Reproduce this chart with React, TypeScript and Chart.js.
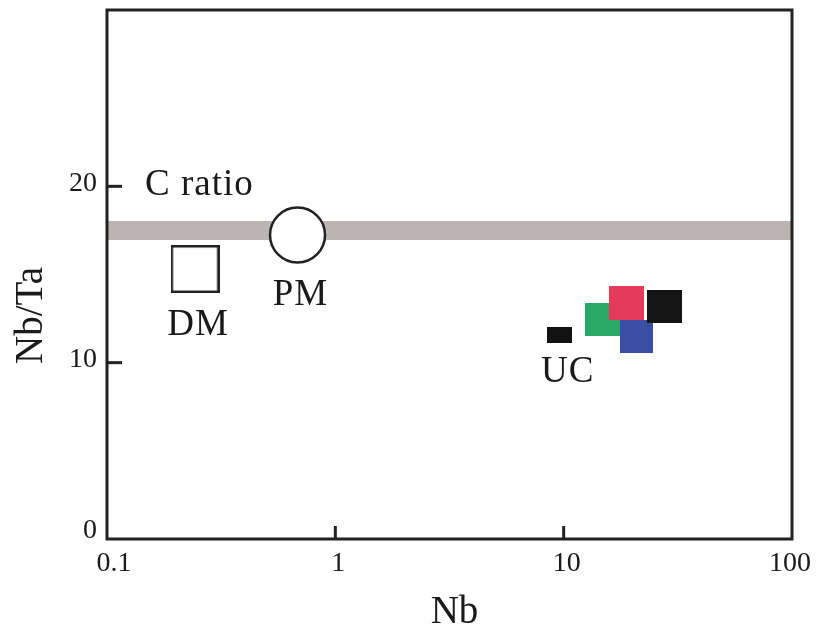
import React, { useEffect, useRef } from "react";
import { Chart, registerables } from "chart.js";

Chart.register(...registerables);

// Nb vs Nb/Ta values
const chondriticRatio = 17.5; // C ratio band (Nb/Ta)
const referenceNames = ["DM", "PM"];
const referenceNb = [0.243, 0.683];
const referenceNbTa = [15.31, 17.24];
const sampleNb = [9.6, 14.8, 18.8, 20.8, 27.7];
const sampleNbTa = [11.57, 12.45, 13.39, 11.49, 13.19];
const sampleLabel = "UC";
const xTicks = [0.1, 1, 10, 100];
const yTicks = [0, 10, 20];

// marker styling
const sampleColors = ["#121212", "#2aa866", "#e63a5b", "#3b4ea3", "#141414"];
const sampleSizes: [number, number][] = [
  [25, 16],
  [35, 33],
  [35, 34],
  [33, 33],
  [35, 33],
];
const SERIF = "'Liberation Serif', 'Times New Roman', serif";
const INK = "#222222";

function makeRect(w: number, h: number, fill: string | null, stroke?: string, lw = 0) {
  const c = document.createElement("canvas");
  c.width = w;
  c.height = h;
  const ctx = c.getContext("2d")!;
  if (fill) {
    ctx.fillStyle = fill;
    ctx.fillRect(0, 0, w, h);
  }
  if (stroke) {
    ctx.strokeStyle = stroke;
    ctx.lineWidth = lw;
    ctx.strokeRect(lw / 2, lw / 2, w - lw, h - lw);
  }
  return c;
}

const framePlugin = {
  id: "frame",
  afterDatasetsDraw(chart: any) {
    const { ctx, chartArea } = chart;
    const xs = chart.scales.x;
    const ys = chart.scales.y;
    const { left, right, top, bottom } = chartArea;
    ctx.save();

    // plot box
    ctx.strokeStyle = INK;
    ctx.lineWidth = 3;
    ctx.strokeRect(left, top, right - left, bottom - top);

    // inward tick marks at interior ticks
    ctx.lineWidth = 3;
    xTicks.forEach((v) => {
      if (v <= xs.min || v >= xs.max) return;
      const px = xs.getPixelForValue(v);
      ctx.beginPath();
      ctx.moveTo(px, bottom);
      ctx.lineTo(px, bottom - 13);
      ctx.stroke();
    });
    yTicks.forEach((v) => {
      if (v <= ys.min || v >= ys.max) return;
      const py = ys.getPixelForValue(v);
      ctx.beginPath();
      ctx.moveTo(left, py);
      ctx.lineTo(left + 15, py);
      ctx.stroke();
    });

    // tick labels
    ctx.fillStyle = "#1a1a1a";
    ctx.font = `28px ${SERIF}`;
    ctx.textAlign = "right";
    ctx.textBaseline = "middle";
    yTicks.forEach((v) => {
      const py = ys.getPixelForValue(v);
      ctx.fillText(String(v), left - 10, Math.min(py - 3, bottom - 8));
    });
    ctx.textAlign = "center";
    xTicks.forEach((v) => {
      const px = xs.getPixelForValue(v);
      const x = Math.min(Math.max(px + 3, left + 7), right - 2);
      ctx.fillText(String(v), x, bottom + 25);
    });

    // axis titles
    ctx.font = `39px ${SERIF}`;
    ctx.textBaseline = "alphabetic";
    ctx.fillText("Nb", (left + right) / 2 + 5, bottom + 84);
    ctx.save();
    ctx.translate(42, (top + bottom) / 2 + 41);
    ctx.rotate(-Math.PI / 2);
    ctx.fillText("Nb/Ta", 0, 0);
    ctx.restore();

    // annotations
    ctx.font = `37px ${SERIF}`;
    ctx.textAlign = "left";
    (ctx as any).letterSpacing = "1px";
    ctx.fillText("C ratio", left + 38, ys.getPixelForValue(chondriticRatio) - 35);
    ctx.textAlign = "center";
    referenceNames.forEach((name, i) => {
      const px = xs.getPixelForValue(referenceNb[i]);
      const py = ys.getPixelForValue(referenceNbTa[i]);
      ctx.fillText(name, px + 3, py + (name === "PM" ? 70 : 66));
    });
    const ux = xs.getPixelForValue(sampleNb[0]);
    const uy = ys.getPixelForValue(sampleNbTa[0]);
    ctx.fillText(sampleLabel, ux + 8, uy + 47);

    ctx.restore();
  },
};

export default function App() {
  const ref = useRef<HTMLCanvasElement | null>(null);

  useEffect(() => {
    document.body.style.margin = "0";
    const canvas = ref.current!;
    const dmMarker = makeRect(49, 48, "#ffffff", INK, 2.5);
    const sampleMarkers = sampleSizes.map(([w, h], i) => makeRect(w, h, sampleColors[i]));

    const chart = new Chart(canvas, {
      type: "scatter",
      data: {
        datasets: [
          {
            label: sampleLabel,
            data: sampleNb.map((x, i) => ({ x, y: sampleNbTa[i] })),
            pointStyle: sampleMarkers as any,
            pointRadius: 18,
            order: 1,
          },
          {
            label: "PM",
            data: [{ x: referenceNb[1], y: referenceNbTa[1] }],
            pointStyle: "circle",
            pointRadius: 27.5,
            borderWidth: 2.5,
            borderColor: INK,
            backgroundColor: "#ffffff",
            order: 2,
          },
          {
            label: "DM",
            data: [{ x: referenceNb[0], y: referenceNbTa[0] }],
            pointStyle: dmMarker as any,
            pointRadius: 25,
            order: 3,
          },
          {
            type: "line",
            label: "C ratio",
            data: [
              { x: xTicks[0], y: chondriticRatio },
              { x: xTicks[xTicks.length - 1], y: chondriticRatio },
            ],
            borderColor: "#bab5b2",
            borderWidth: 19,
            pointRadius: 0,
            fill: false,
            order: 10,
          } as any,
        ],
      },
      options: {
        responsive: false,
        animation: false,
        events: [],
        layout: { autoPadding: false, padding: { left: 107, right: 25, top: 10, bottom: 92 } },
        plugins: { legend: { display: false }, tooltip: { enabled: false } },
        scales: {
          x: { type: "logarithmic", min: 0.1, max: 100, display: false },
          y: { type: "linear", min: 0, max: 30, display: false },
        },
      },
      plugins: [framePlugin],
    });
    return () => chart.destroy();
  }, []);

  return (
    <div style={{ width: 817, height: 631, background: "#ffffff" }}>
      <canvas ref={ref} width={817} height={631} style={{ display: "block" }} />
    </div>
  );
}
